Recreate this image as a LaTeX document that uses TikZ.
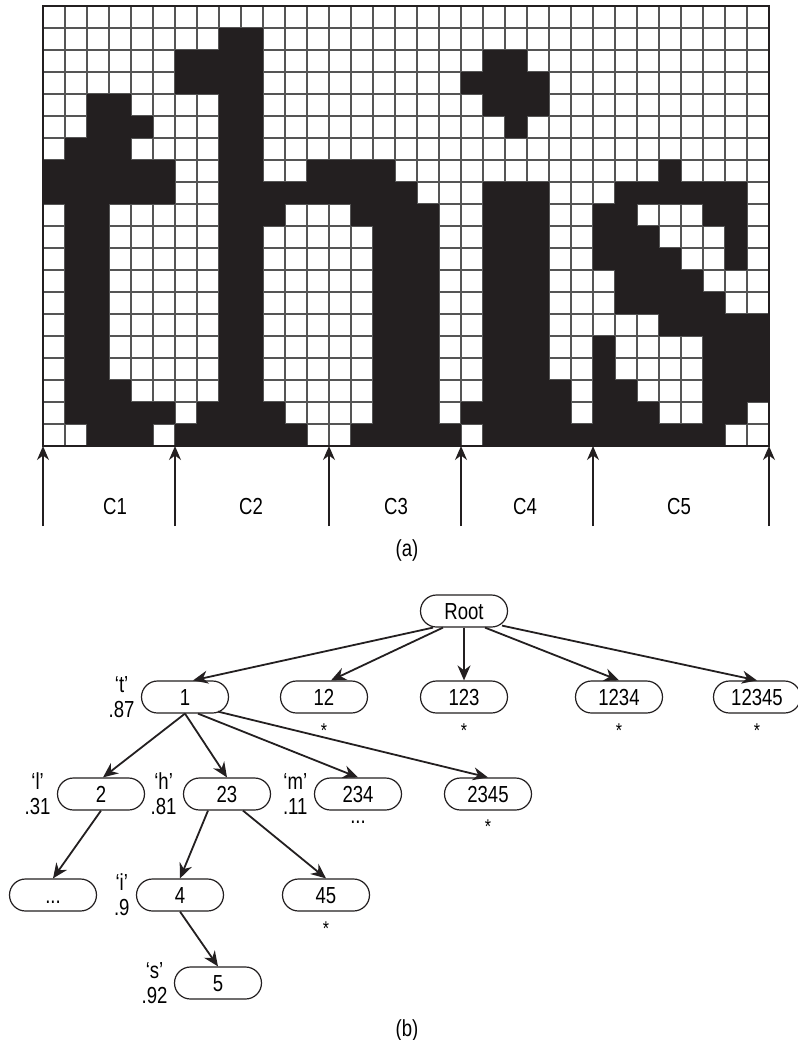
\documentclass[tikz,border=0pt]{standalone}
\usepackage{fontspec}
\setmainfont{Liberation Sans}[FakeStretch=0.8]
\usepackage{tikz}
\usetikzlibrary{positioning}
\usetikzlibrary{arrows.meta}

\definecolor{ink}{HTML}{231F20}
\definecolor{gridline}{HTML}{555555}

\tikzset{
  trienode/.style={draw=ink, line width=0.6pt, rounded corners=8pt,
    minimum width=43.5pt, minimum height=16pt, inner sep=0pt,
    text height=8.3pt, text depth=0pt},
  trieedge/.style={draw=ink, line width=0.9pt, -{Stealth[length=7.5pt,width=6.5pt]}},
  weight/.style={align=center, inner sep=1pt, font=\fontsize{11.6}{12.5}\selectfont},
  leafmark/.style={inner sep=0pt, font=\fontsize{10}{12}\selectfont},
  cutarrow/.style={draw=ink, line width=0.8pt, -{Stealth[length=7pt,width=6pt]}}
}

% one row of black pixels: row, list of columns
\newcommand{\pixrow}[2]{\foreach \cx in {#2} {\fill[ink] (43+22*\cx,6+22*#1) rectangle ++(22,22);}}

\begin{document}
\begin{tikzpicture}[x=0.5pt, y=-0.5pt, font=\fontsize{11.6}{14}\selectfont]
    \fill[white] (0,0) rectangle (798,1040);
    \useasboundingbox (0,0) rectangle (798,1040);

    % (a) the glyph grid
    \foreach \i in {0,...,33} \draw[gridline, line width=0.8pt] (43+22*\i,6) -- (43+22*\i,446);
    \foreach \j in {0,...,20} \draw[gridline, line width=0.8pt] (43,6+22*\j) -- (769,6+22*\j);

    \pixrow{1}{8,9}
    \pixrow{2}{6,7,8,9,20,21}
    \pixrow{3}{6,7,8,9,19,20,21,22}
    \pixrow{4}{2,3,8,9,20,21,22}
    \pixrow{5}{2,3,4,8,9,21}
    \pixrow{6}{1,2,3,8,9}
    \pixrow{7}{0,1,2,3,4,5,8,9,12,13,14,15,28}
    \pixrow{8}{0,1,2,3,4,5,8,9,10,11,12,13,14,15,16,20,21,22,26,27,28,29,30,31}
    \pixrow{9}{1,2,8,9,10,14,15,16,17,20,21,22,25,26,30,31}
    \pixrow{10}{1,2,8,9,15,16,17,20,21,22,25,26,27,31}
    \pixrow{11}{1,2,8,9,15,16,17,20,21,22,25,26,27,28,31}
    \pixrow{12}{1,2,8,9,15,16,17,20,21,22,26,27,28,29}
    \pixrow{13}{1,2,8,9,15,16,17,20,21,22,26,27,28,29,30}
    \pixrow{14}{1,2,8,9,15,16,17,20,21,22,28,29,30,31,32}
    \pixrow{15}{1,2,8,9,15,16,17,20,21,22,25,30,31,32}
    \pixrow{16}{1,2,8,9,15,16,17,20,21,22,25,30,31,32}
    \pixrow{17}{1,2,3,8,9,15,16,17,20,21,22,23,25,26,30,31,32}
    \pixrow{18}{1,2,3,4,5,7,8,9,10,15,16,17,19,20,21,22,23,25,26,27,30,31}
    \pixrow{19}{2,3,4,6,7,8,9,10,11,14,15,16,17,18,20,21,22,23,24,25,26,27,28,29,30}

    \draw[ink, line width=0.9pt] (43,6) rectangle (769,446);

    % cut points
    \foreach \cx [count=\k] in {0,6,13,19,25,33} {
        \coordinate (cb\k) at (43+22*\cx,526);
        \coordinate (ct\k) at (43+22*\cx,446);
        \draw[cutarrow] (cb\k) -- (ct\k);
    }
    \node (c1) at (115,507) {C1};
    \node (c2) at (251,507) {C2};
    \node (c3) at (396,507) {C3};
    \node (c4) at (525,507) {C4};
    \node (c5) at (679,507) {C5};
    \node (capa) at (407,550) {(a)};

    % (b) the search tree
    \node[trienode] (root) at (464,611) {Root};

    \node[trienode] (n1) at (185,697) {1};
    \node[trienode] (n12) at (324,697) {12};
    \node[trienode] (n123) at (464,697) {123};
    \node[trienode] (n1234) at (619,697) {1234};
    \node[trienode] (n12345) at (757,697) {12345};

    \node[trienode] (n2) at (101,794) {2};
    \node[trienode] (n23) at (227,794) {23};
    \node[trienode] (n234) at (358,794) {234};
    \node[trienode] (n2345) at (488,794) {2345};

    \node[trienode] (ndots) at (53,895) {...};
    \node[trienode] (n4) at (180,895) {4};
    \node[trienode] (n45) at (326,895) {45};

    \node[trienode] (n5) at (218,983) {5};

    \node[weight, left=2pt of n1] (w1) {‘t’\\.87};
    \node[weight, left=2pt of n2] (w2) {‘l’\\.31};
    \node[weight, left=2pt of n23] (w23) {‘h’\\.81};
    \node[weight, left=2pt of n234] (w234) {‘m’\\.11};
    \node[weight, left=2pt of n4] (w4) {‘i’\\.9};
    \node[weight, left=2pt of n5] (w5) {‘s’\\.92};

    \node[leafmark] (s12) at (324,731) {*};
    \node[leafmark] (s123) at (464,731) {*};
    \node[leafmark] (s1234) at (619,731) {*};
    \node[leafmark] (s12345) at (757,731) {*};
    \node[leafmark] (s2345) at (488,827) {*};
    \node[leafmark] (s45) at (326,929) {*};
    \node[inner sep=0pt] (d234) at (358,822) {...};

    \draw[trieedge] ([xshift=-15.5pt]root.south) -- ([xshift=4pt]n1.north);
    \draw[trieedge] ([xshift=-10.5pt]root.south) -- ([xshift=3.5pt]n12.north);
    \draw[trieedge] (root.south) -- (n123.north);
    \draw[trieedge] ([xshift=10.5pt]root.south) -- (n1234.north);
    \draw[trieedge] ([xshift=19pt,yshift=1pt]root.south) -- (n12345.north);

    \draw[trieedge] (n1.south) -- ([xshift=1pt]n2.north);
    \draw[trieedge] (n1.south) -- (n23.north);
    \draw[trieedge] ([xshift=6.5pt]n1.south) -- (n234.north);
    \draw[trieedge] ([xshift=16.5pt,yshift=1pt]n1.south) -- (n2345.north);

    \draw[trieedge] (n2.south) -- (ndots.north);
    \draw[trieedge] ([xshift=-9.5pt]n23.south) -- (n4.north);
    \draw[trieedge] ([xshift=8pt]n23.south) -- (n45.north);
    \draw[trieedge] (n4.south) -- (n5.north);

    \node (capb) at (407,1030) {(b)};
\end{tikzpicture}
\end{document}
